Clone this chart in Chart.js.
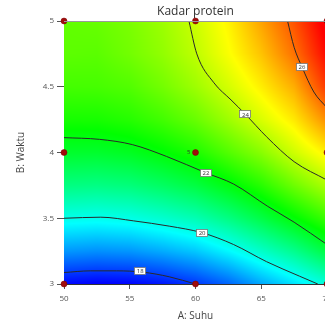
<!DOCTYPE html>
<html>
<head>
<meta charset="utf-8">
<script src="https://cdn.jsdelivr.net/npm/chart.js@4/dist/chart.umd.min.js"></script>
<style>
html, body { margin: 0; padding: 0; overflow: hidden; background: #fff; }
canvas { display: block; }
</style>
</head>
<body>
<canvas id="chart" width="340" height="324"></canvas>
<script>
// A: Suhu (x axis), B: Waktu (y axis)
const suhuGrid = [50, 52.5, 55, 57.5, 60, 62.5, 65, 67.5, 70];
const waktuGrid = [3, 3.25, 3.5, 3.75, 4, 4.25, 4.5, 4.75, 5];

// Kadar protein, one row per waktu value
const proteinGrid = [
    [17.56, 17.48, 17.52, 17.70, 18.00, 18.43, 19.05, 19.60, 20.20],
    [18.90, 18.83, 18.89, 19.09, 19.35, 19.80, 20.35, 20.90, 21.60],
    [20.05, 20.00, 20.08, 20.29, 20.55, 21.00, 21.55, 22.15, 22.75],
    [21.02, 20.99, 21.08, 21.31, 21.60, 22.05, 22.55, 23.20, 23.80],
    [21.80, 21.79, 21.90, 22.15, 22.45, 22.95, 23.45, 24.10, 24.70],
    [22.40, 22.41, 22.54, 22.80, 23.15, 23.65, 24.20, 24.75, 25.60],
    [22.82, 22.84, 22.95, 23.26, 23.65, 24.15, 24.70, 25.30, 26.40],
    [23.05, 23.03, 23.25, 23.54, 23.95, 24.50, 25.10, 25.85, 26.85],
    [23.09, 23.15, 23.33, 23.64, 24.08, 24.65, 25.40, 26.15, 27.10]
];

const suhuTicks = [50, 55, 60, 65, 70];
const waktuTicks = [3, 3.5, 4, 4.5, 5];

// contour lines (suhu, waktu)
const contour18 = [[50, 3.087], [52, 3.10], [54, 3.10], [56, 3.09], [58, 3.055], [60, 3.0]];
const contour20 = [[50, 3.50], [52.8, 3.508], [55.3, 3.48], [58, 3.44], [60.5, 3.39], [62.9, 3.30], [65.4, 3.17], [67.9, 3.06], [69.3, 3.0]];
const contour22 = [[50, 4.113], [52.7, 4.10], [55.2, 4.06], [57.8, 3.97], [60.8, 3.845], [62.9, 3.76], [65.5, 3.59], [67.5, 3.47], [70, 3.30]];
const contour24 = [[59.5, 5.0], [60.1, 4.75], [61.4, 4.53], [62.7, 4.40], [63.8, 4.29], [65.4, 4.12], [67.5, 3.93], [70, 3.79]];
const contour26 = [[67.0, 5.0], [67.5, 4.80], [68.1, 4.65], [69.0, 4.46], [70, 4.34]];

const contourLabels = ['18', '20', '22', '24', '26'];
const labelSuhu = [55.8, 60.5, 60.8, 63.8, 68.1];
const labelWaktu = [3.10, 3.39, 3.845, 4.29, 4.65];

// design points
const designSuhu = [50, 60, 70, 50, 60, 70, 50, 60, 70];
const designWaktu = [3, 3, 3, 4, 4, 4, 5, 5, 5];
const centerRuns = '5';

// colour ramp range (blue -> red)
const colorMin = 17.5;
const colorMax = 26.9;

function proteinAt(sx, wy) {
    let i = 0;
    while (i < suhuGrid.length - 2 && sx > suhuGrid[i + 1]) i++;
    let j = 0;
    while (j < waktuGrid.length - 2 && wy > waktuGrid[j + 1]) j++;
    const tx = Math.min(1, Math.max(0, (sx - suhuGrid[i]) / (suhuGrid[i + 1] - suhuGrid[i])));
    const ty = Math.min(1, Math.max(0, (wy - waktuGrid[j]) / (waktuGrid[j + 1] - waktuGrid[j])));
    const a = proteinGrid[j][i], b = proteinGrid[j][i + 1];
    const c = proteinGrid[j + 1][i], d = proteinGrid[j + 1][i + 1];
    return (a * (1 - tx) + b * tx) * (1 - ty) + (c * (1 - tx) + d * tx) * ty;
}

const stops = [[0, 0, 255], [0, 255, 255], [0, 255, 0], [255, 255, 0], [255, 0, 0]];
function colorFor(v) {
    let t = (v - colorMin) / (colorMax - colorMin);
    t = Math.min(1, Math.max(0, t)) * (stops.length - 1);
    const k = Math.min(stops.length - 2, Math.floor(t));
    const f = t - k;
    return stops[k].map((c, n) => Math.round(c + (stops[k + 1][n] - c) * f));
}

const heatmapPlugin = {
    id: 'heatmap',
    beforeDatasetsDraw(chart) {
        const { ctx, chartArea, scales } = chart;
        const left = Math.round(chartArea.left), top = Math.round(chartArea.top);
        const w = Math.round(chartArea.right) - left, h = Math.round(chartArea.bottom) - top;
        const img = ctx.createImageData(w, h);
        for (let py = 0; py < h; py++) {
            const wy = scales.y.getValueForPixel(top + py + 0.5);
            for (let px = 0; px < w; px++) {
                const sx = scales.x.getValueForPixel(left + px + 0.5);
                const col = colorFor(proteinAt(sx, wy));
                const o = (py * w + px) * 4;
                img.data[o] = col[0];
                img.data[o + 1] = col[1];
                img.data[o + 2] = col[2];
                img.data[o + 3] = 255;
            }
        }
        ctx.putImageData(img, left, top);
    },
    afterDatasetsDraw(chart) {
        const { ctx, scales, chartArea } = chart;
        ctx.save();
        ctx.font = "6px 'Open Sans', sans-serif";
        ctx.textAlign = 'center';
        ctx.textBaseline = 'middle';
        contourLabels.forEach((txt, i) => {
            const px = scales.x.getPixelForValue(labelSuhu[i]);
            const py = scales.y.getPixelForValue(labelWaktu[i]);
            ctx.fillStyle = '#fff';
            ctx.fillRect(Math.round(px) - 5.5, Math.round(py) - 3.5, 11, 7);
            ctx.strokeStyle = '#777';
            ctx.lineWidth = 0.8;
            ctx.strokeRect(Math.round(px) - 5.5, Math.round(py) - 3.5, 11, 7);
            ctx.fillStyle = '#333';
            ctx.fillText(txt, px, py + 0.5);
        });
        // replicate count beside the centre point
        ctx.fillStyle = '#333';
        ctx.textAlign = 'right';
        ctx.fillText(centerRuns, scales.x.getPixelForValue(60) - 5, scales.y.getPixelForValue(4));
        // top frame
        ctx.strokeStyle = '#999';
        ctx.lineWidth = 1;
        ctx.beginPath();
        ctx.moveTo(chartArea.left, chartArea.top + 0.5);
        ctx.lineTo(chartArea.right, chartArea.top + 0.5);
        ctx.stroke();
        ctx.restore();
    }
};

function contourSet(points) {
    return {
        type: 'line',
        data: points.map(p => ({ x: p[0], y: p[1] })),
        borderColor: '#2a2a2a',
        borderWidth: 1,
        pointRadius: 0,
        cubicInterpolationMode: 'monotone',
        fill: false
    };
}

Chart.defaults.font.family = "'Open Sans', sans-serif";

new Chart(document.getElementById('chart'), {
    type: 'scatter',
    data: {
        datasets: [
            {
                data: designSuhu.map((s, i) => ({ x: s, y: designWaktu[i] })),
                backgroundColor: '#a00d0d',
                borderColor: '#7a0000',
                borderWidth: 0.5,
                pointRadius: 3,
                clip: false
            },
            contourSet(contour18),
            contourSet(contour20),
            contourSet(contour22),
            contourSet(contour24),
            contourSet(contour26)
        ]
    },
    options: {
        responsive: false,
        animation: false,
        layout: { padding: { left: 0, right: 13, top: 0, bottom: 0 } },
        scales: {
            x: {
                type: 'linear',
                min: 50,
                max: 70,
                afterBuildTicks: scale => { scale.ticks = suhuTicks.map(v => ({ value: v })); },
                afterFit: scale => { scale.height = 40; },
                ticks: { color: '#555', font: { size: 8 }, padding: 5, maxRotation: 0, callback: v => String(v) },
                grid: { drawOnChartArea: false, drawTicks: true, tickLength: 5, color: '#555' },
                border: { color: '#333', width: 1 },
                title: { display: true, text: 'A: Suhu', color: '#444', font: { size: 10 }, padding: { top: 0, bottom: 2 } }
            },
            y: {
                type: 'linear',
                min: 3,
                max: 5,
                afterBuildTicks: scale => { scale.ticks = waktuTicks.map(v => ({ value: v })); },
                afterFit: scale => { scale.width = 64; },
                ticks: { color: '#555', font: { size: 8 }, padding: 3, callback: v => String(v) },
                grid: { drawOnChartArea: false, drawTicks: true, tickLength: 7, color: '#555' },
                border: { color: '#333', width: 1 },
                title: { display: true, text: 'B: Waktu', color: '#444', font: { size: 10 }, padding: { top: 15, bottom: 0 } }
            }
        },
        plugins: {
            legend: { display: false },
            tooltip: { enabled: false },
            title: {
                display: true,
                text: 'Kadar protein',
                fullSize: false,
                color: '#333',
                font: { size: 12, weight: 'normal' },
                padding: { top: 4, bottom: 2.6 }
            }
        }
    },
    plugins: [heatmapPlugin]
});
</script>
</body>
</html>
